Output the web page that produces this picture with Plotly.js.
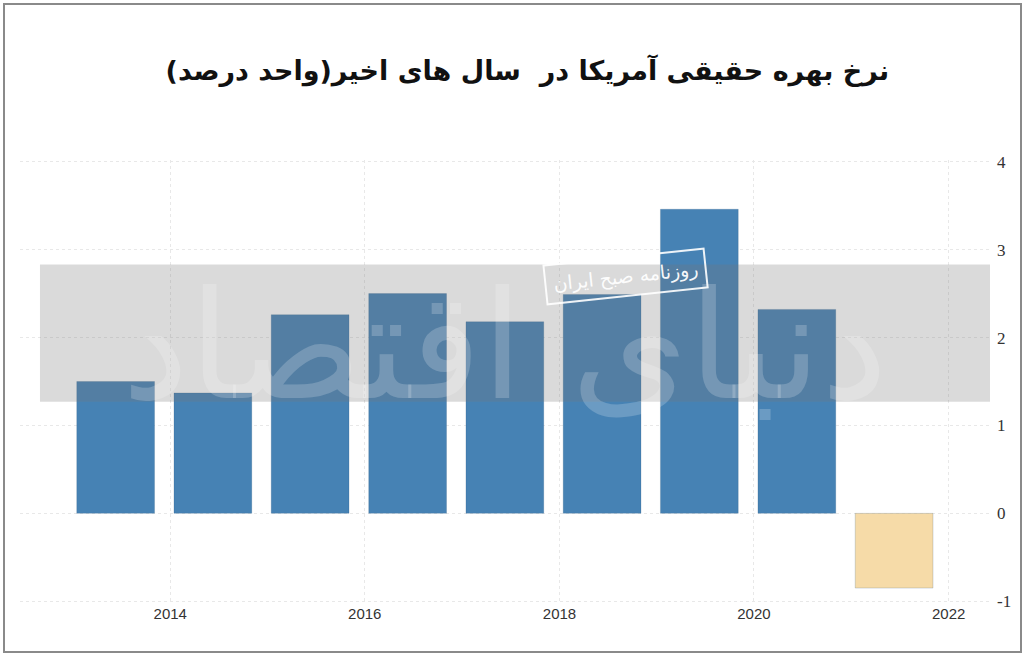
<!DOCTYPE html>
<html>
<head>
<meta charset="utf-8">
<script src="https://cdn.plot.ly/plotly-3.0.1.min.js"></script>
<style>
html,body{margin:0;padding:0;background:#fff;}
#chart{width:1024px;height:655px;}
#frame{position:absolute;left:3px;top:3px;width:1015px;height:646px;border:2px solid #8a8a8a;pointer-events:none;}
</style>
</head>
<body>
<div id="chart"></div>
<div id="frame"></div>
<script>
// Data
const years = [2013, 2014, 2015, 2016, 2017, 2018, 2019, 2020, 2021];
const realRate = [1.50, 1.37, 2.26, 2.50, 2.18, 2.49, 3.46, 2.32, -0.85];
const barColors = ['#4682b4','#4682b4','#4682b4','#4682b4','#4682b4','#4682b4','#4682b4','#4682b4','#f6dba8'];
const xTickYears = ['2014-01-01','2016-01-01','2018-01-01','2020-01-01','2022-01-01'];
const xTickText = ['2014','2016','2018','2020','2022'];
const yTicks = [-1, 0, 1, 2, 3, 4];
const titleText = 'نرخ بهره حقیقی آمریکا در  سال های اخیر(واحد درصد)';
const stampText = 'روزنامه صبح ایران';
const watermarkText = 'دنیای اقتصاد';

const xDates = years.map(y => y + '-06-10');

const trace = {
  type: 'bar',
  x: xDates,
  y: realRate,
  marker: {color: barColors, line: {color: 'rgba(40,80,120,0.2)', width: 1}},
  hoverinfo: 'x+y'
};

const layout = {
  width: 1024,
  height: 655,
  margin: {l: 20, r: 34, t: 160, b: 52},
  paper_bgcolor: '#ffffff',
  plot_bgcolor: '#ffffff',
  showlegend: false,
  bargap: 0.2,
  title: {
    text: '<b>' + titleText + '</b>',
    font: {family: 'DejaVu Sans', size: 27, color: '#111'},
    x: 0.515, xanchor: 'center',
    y: 0.893, yanchor: 'middle'
  },
  xaxis: {
    type: 'date',
    range: ['2012-06-16', '2022-06-05'],
    tickmode: 'array',
    tickvals: xTickYears,
    ticktext: xTickText,
    showgrid: true,
    gridcolor: '#e8e8e8',
    griddash: 'dot',
    gridwidth: 1,
    zeroline: false,
    showline: false,
    ticks: '',
    tickfont: {family: 'Liberation Sans Narrow, Liberation Sans', size: 15, color: '#333'}
  },
  yaxis: {
    side: 'right',
    range: [-1.02, 4.02],
    tickmode: 'array',
    tickvals: yTicks,
    ticktext: yTicks.map(String),
    showgrid: true,
    gridcolor: '#e8e8e8',
    griddash: 'dot',
    gridwidth: 1,
    zeroline: false,
    showline: false,
    ticks: '',
    ticklabelstandoff: 6,
    tickfont: {family: 'Liberation Serif', size: 17, color: '#333'}
  },
  shapes: [
    {
      type: 'rect', layer: 'above',
      xref: 'paper', yref: 'y',
      x0: 0.0206, x1: 1.0, y0: 1.27, y1: 2.83,
      fillcolor: 'rgb(120,120,120)', opacity: 0.27,
      line: {width: 0}
    }
  ],
  annotations: [
    {
      text: watermarkText,
      xref: 'paper', yref: 'y', x: 0.5, y: 1.9,
      showarrow: false,
      font: {family: 'DejaVu Sans', size: 150, color: 'rgba(255,255,255,0.2)'},
      textangle: 0
    },
    {
      text: stampText,
      xref: 'paper', yref: 'y', x: 0.624, y: 2.7,
      showarrow: false,
      textangle: -6,
      font: {family: 'DejaVu Sans', size: 19, color: 'rgba(255,255,255,0.95)'},
      bordercolor: 'rgba(255,255,255,0.9)', borderwidth: 2, borderpad: 7
    }
  ]
};

Plotly.newPlot('chart', [trace], layout, {displayModeBar: false, staticPlot: true});
</script>
</body>
</html>
